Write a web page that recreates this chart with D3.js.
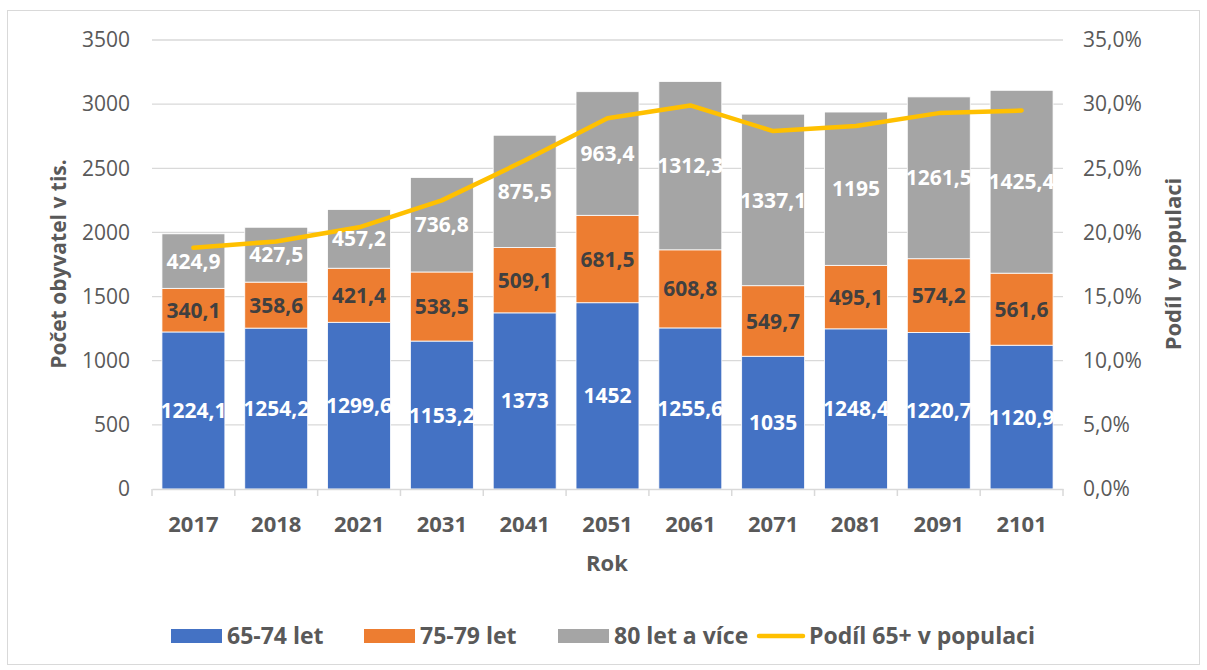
<!DOCTYPE html>
<html lang="cs">
<head>
<meta charset="UTF-8">
<title>Počet obyvatel 65+</title>
<script src="https://d3js.org/d3.v7.min.js"></script>
<style>
  body { margin: 0; background: #fff; font-family: "Open Sans", "Noto Sans", sans-serif; }
  .tick text { fill: #595959; }
</style>
</head>
<body>
<svg width="1207" height="670"></svg>
<script>
const years = ["2017", "2018", "2021", "2031", "2041", "2051", "2061", "2071", "2081", "2091", "2101"];
const age6574 = [1224.1, 1254.2, 1299.6, 1153.2, 1373, 1452, 1255.6, 1035, 1248.4, 1220.7, 1120.9];
const age7579 = [340.1, 358.6, 421.4, 538.5, 509.1, 681.5, 608.8, 549.7, 495.1, 574.2, 561.6];
const age80 = [424.9, 427.5, 457.2, 736.8, 875.5, 963.4, 1312.3, 1337.1, 1195, 1261.5, 1425.4];
const share65 = [18.8, 19.3, 20.4, 22.5, 25.6, 28.9, 29.9, 27.9, 28.3, 29.3, 29.5];
const leftTicks = [0, 500, 1000, 1500, 2000, 2500, 3000, 3500];
const rightTicks = [0, 5, 10, 15, 20, 25, 30, 35];

const series = [
  { name: "65-74 let", values: age6574, color: "#4472C4", label: "#fff" },
  { name: "75-79 let", values: age7579, color: "#ED7D31", label: "#404040" },
  { name: "80 let a více", values: age80, color: "#A5A5A5", label: "#fff" }
];

const svg = d3.select("svg");
const m = { left: 152, right: 1063, top: 40, bottom: 489 };

// outer frame
svg.append("rect").attr("x", 7.5).attr("y", 10.5).attr("width", 1192).attr("height", 654)
  .attr("fill", "none").attr("stroke", "#d9d9d9");

const x = d3.scaleBand().domain(years).range([m.left, m.right]).paddingInner(0.24).paddingOuter(0.12);
const y = d3.scaleLinear().domain([0, 3500]).range([m.bottom, m.top]);
const y2 = d3.scaleLinear().domain([0, 35]).range([m.bottom, m.top]);

// gridlines
svg.append("g").selectAll("line").data(leftTicks.slice(1)).join("line")
  .attr("x1", m.left).attr("x2", m.right)
  .attr("y1", d => y(d)).attr("y2", d => y(d))
  .attr("stroke", "#d9d9d9").attr("stroke-width", 1.3);

// left axis
const yAxis = svg.append("g").attr("transform", `translate(${m.left - 22},0)`)
  .call(d3.axisLeft(y).tickValues(leftTicks).tickFormat(d3.format("d")).tickSize(0).tickPadding(0));
yAxis.select(".domain").remove();
yAxis.selectAll("text").attr("font-size", 21).attr("font-family", "Open Sans");

// right axis
const fmtPct = d => d3.format(".1f")(d).replace(".", ",") + "%";
const y2Axis = svg.append("g").attr("transform", `translate(${m.right + 20},0)`)
  .call(d3.axisRight(y2).tickValues(rightTicks).tickFormat(fmtPct).tickSize(0).tickPadding(0));
y2Axis.select(".domain").remove();
y2Axis.selectAll("text").attr("font-size", 21).attr("font-family", "Open Sans");

// stacked bars
const rows = years.map((yr, i) => {
  const r = { year: yr };
  series.forEach(s => r[s.name] = s.values[i]);
  return r;
});
const stack = d3.stack().keys(series.map(s => s.name))(rows);

const fmtNum = v => String(v).replace(".", ",");

stack.forEach((layer, li) => {
  const s = series[li];
  const g = svg.append("g");
  g.selectAll("rect").data(layer).join("rect")
    .attr("x", d => x(d.data.year))
    .attr("width", x.bandwidth())
    .attr("y", d => y(d[1]))
    .attr("height", d => y(d[0]) - y(d[1]))
    .attr("fill", s.color)
    .attr("stroke", "#fff").attr("stroke-width", 0.8);
});

// x axis
const xAxis = svg.append("g").attr("transform", `translate(0,${m.bottom})`)
  .call(d3.axisBottom(x).tickSize(0).tickPadding(27));
xAxis.select(".domain").attr("stroke", "#d9d9d9").attr("stroke-width", 1.5);
xAxis.selectAll("text").attr("font-size", 22).attr("font-weight", "bold").attr("font-family", "Open Sans");
svg.append("g").selectAll("line").data(d3.range(years.length + 1)).join("line")
  .attr("x1", d => m.left + d * (m.right - m.left) / years.length)
  .attr("x2", d => m.left + d * (m.right - m.left) / years.length)
  .attr("y1", m.bottom).attr("y2", m.bottom + 7)
  .attr("stroke", "#d9d9d9").attr("stroke-width", 1.5);

// line
const line = d3.line().x((d, i) => x(years[i]) + x.bandwidth() / 2).y(d => y2(d));
svg.append("path").datum(share65).attr("d", line)
  .attr("fill", "none").attr("stroke", "#FFC000").attr("stroke-width", 4.5)
  .attr("stroke-linejoin", "round").attr("stroke-linecap", "round");

// data labels
stack.forEach((layer, li) => {
  const s = series[li];
  svg.append("g").selectAll("text").data(layer).join("text")
    .attr("x", d => x(d.data.year) + x.bandwidth() / 2)
    .attr("y", d => (y(d[0]) + y(d[1])) / 2)
    .attr("dy", "0.36em")
    .attr("text-anchor", "middle")
    .attr("font-size", 21).attr("font-weight", "bold")
    .attr("fill", s.label)
    .text(d => fmtNum(d.data[s.name]));
});

// axis titles
svg.append("text").attr("transform", `translate(66,264) rotate(-90)`)
  .attr("text-anchor", "middle").attr("font-size", 21).attr("font-weight", "bold").attr("fill", "#595959")
  .text("Počet obyvatel v tis.");
svg.append("text").attr("transform", `translate(1181,264) rotate(-90)`)
  .attr("text-anchor", "middle").attr("font-size", 22).attr("font-weight", "bold").attr("fill", "#595959")
  .text("Podíl v populaci");
svg.append("text").attr("x", 607).attr("y", 571)
  .attr("text-anchor", "middle").attr("font-size", 22).attr("font-weight", "bold").attr("fill", "#595959")
  .text("Rok");

// legend
const legendItems = [
  { name: series[0].name, color: series[0].color, type: "rect", x: 171 },
  { name: series[1].name, color: series[1].color, type: "rect", x: 364 },
  { name: series[2].name, color: series[2].color, type: "rect", x: 558 },
  { name: "Podíl 65+ v populaci", color: "#FFC000", type: "line", x: 757 }
];
const lg = svg.append("g").selectAll("g").data(legendItems).join("g")
  .attr("transform", d => `translate(${d.x},636)`);
lg.filter(d => d.type === "rect").append("rect")
  .attr("x", 0).attr("y", -7).attr("width", 51).attr("height", 14).attr("fill", d => d.color);
lg.filter(d => d.type === "line").append("line")
  .attr("x1", 2).attr("x2", 46).attr("y1", 0).attr("y2", 0)
  .attr("stroke", d => d.color).attr("stroke-width", 4.5).attr("stroke-linecap", "round");
lg.append("text").attr("x", d => d.type === "rect" ? 56 : 52).attr("y", 0).attr("dy", "0.36em")
  .attr("font-size", 23).attr("font-weight", "bold").attr("fill", "#595959")
  .text(d => d.name);
</script>
</body>
</html>
